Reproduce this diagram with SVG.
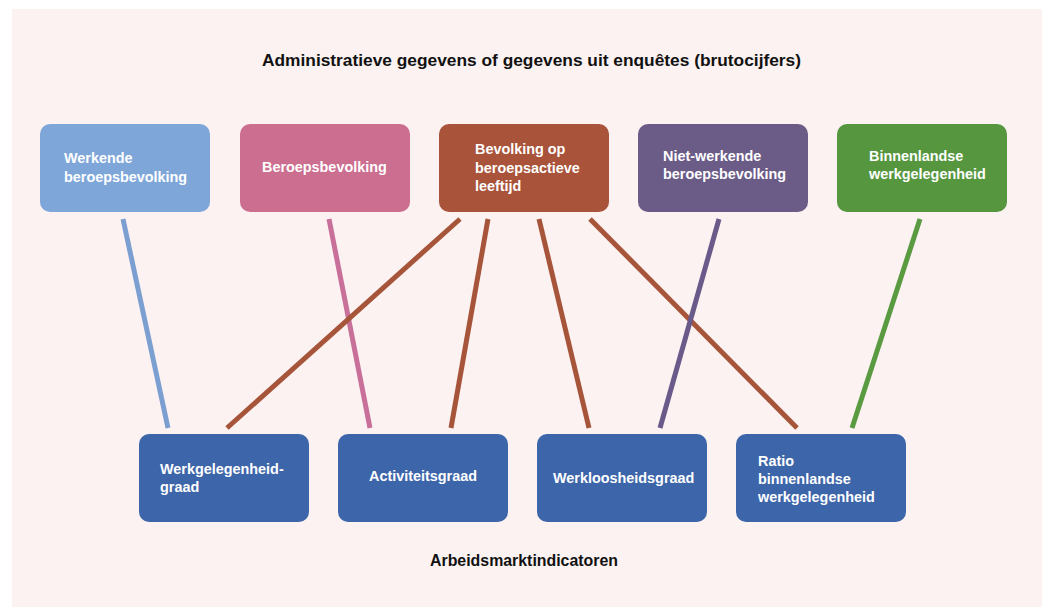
<svg xmlns="http://www.w3.org/2000/svg" width="1045" height="607" viewBox="0 0 1045 607">
<style>
.bg{fill:#fbf2f1}
.box{stroke:none}
.t{font-family:"Liberation Sans",Arial,sans-serif;font-weight:bold;font-size:14.4px;fill:#ffffff}
.h{font-family:"Liberation Sans",Arial,sans-serif;font-weight:bold;font-size:16.5px;fill:#111111}
.ln{stroke-width:5;fill:none}
</style>
<rect x="0" y="0" width="1045" height="607" fill="#ffffff"/>
<rect class="bg" x="12" y="9" width="1030" height="598"/>
<text class="h" x="262" y="66" textLength="539" lengthAdjust="spacingAndGlyphs">Administratieve gegevens of gegevens uit enquêtes (brutocijfers)</text>
<text class="h" x="430" y="566" textLength="188" lengthAdjust="spacingAndGlyphs">Arbeidsmarktindicatoren</text>
<g id="connectors">
<line class="ln" stroke="#7b9fd0" x1="123" y1="219" x2="168" y2="428"/>
<line class="ln" stroke="#c8709a" x1="329" y1="219" x2="370" y2="428"/>
<line class="ln" stroke="#a7553a" x1="460" y1="219" x2="227" y2="428"/>
<line class="ln" stroke="#a7553a" x1="488" y1="219" x2="451" y2="428"/>
<line class="ln" stroke="#a7553a" x1="539" y1="219" x2="589" y2="428"/>
<line class="ln" stroke="#a7553a" x1="590" y1="219" x2="797" y2="428"/>
<line class="ln" stroke="#6a5a8a" x1="719" y1="219" x2="660" y2="428"/>
<line class="ln" stroke="#5a9a40" x1="920" y1="219" x2="852" y2="428"/>
</g>
<g id="werkende">
<rect class="box" x="40" y="124" width="170" height="88" rx="10" fill="#7ea6d8"/>
<text class="t" x="64" y="163">Werkende</text>
<text class="t" x="64" y="182">beroepsbevolking</text>
</g>
<g id="beroepsbevolking">
<rect class="box" x="240" y="124" width="170" height="88" rx="10" fill="#cc6e8f"/>
<text class="t" x="262" y="172">Beroepsbevolking</text>
</g>
<g id="bevolking">
<rect class="box" x="439" y="124" width="170" height="88" rx="10" fill="#a9533a"/>
<text class="t" x="475" y="154">Bevolking op</text>
<text class="t" x="475" y="173">beroepsactieve</text>
<text class="t" x="475" y="191">leeftijd</text>
</g>
<g id="nietwerkende">
<rect class="box" x="638" y="124" width="170" height="88" rx="10" fill="#6b5b87"/>
<text class="t" x="663" y="161">Niet-werkende</text>
<text class="t" x="663" y="179">beroepsbevolking</text>
</g>
<g id="binnenlandse">
<rect class="box" x="837" y="124" width="170" height="88" rx="10" fill="#55963f"/>
<text class="t" x="869" y="161">Binnenlandse</text>
<text class="t" x="869" y="179">werkgelegenheid</text>
</g>
<g id="werkgelegenheidgraad">
<rect class="box" x="139" y="434" width="170" height="88" rx="10" fill="#3d65aa"/>
<text class="t" x="160" y="474">Werkgelegenheid-</text>
<text class="t" x="160" y="492">graad</text>
</g>
<g id="activiteitsgraad">
<rect class="box" x="338" y="434" width="170" height="88" rx="10" fill="#3d65aa"/>
<text class="t" x="369" y="481">Activiteitsgraad</text>
</g>
<g id="werkloosheidsgraad">
<rect class="box" x="537" y="434" width="170" height="88" rx="10" fill="#3d65aa"/>
<text class="t" x="553" y="483">Werkloosheidsgraad</text>
</g>
<g id="ratio">
<rect class="box" x="736" y="434" width="170" height="88" rx="10" fill="#3d65aa"/>
<text class="t" x="758" y="466">Ratio</text>
<text class="t" x="758" y="484">binnenlandse</text>
<text class="t" x="758" y="502">werkgelegenheid</text>
</g>
</svg>
